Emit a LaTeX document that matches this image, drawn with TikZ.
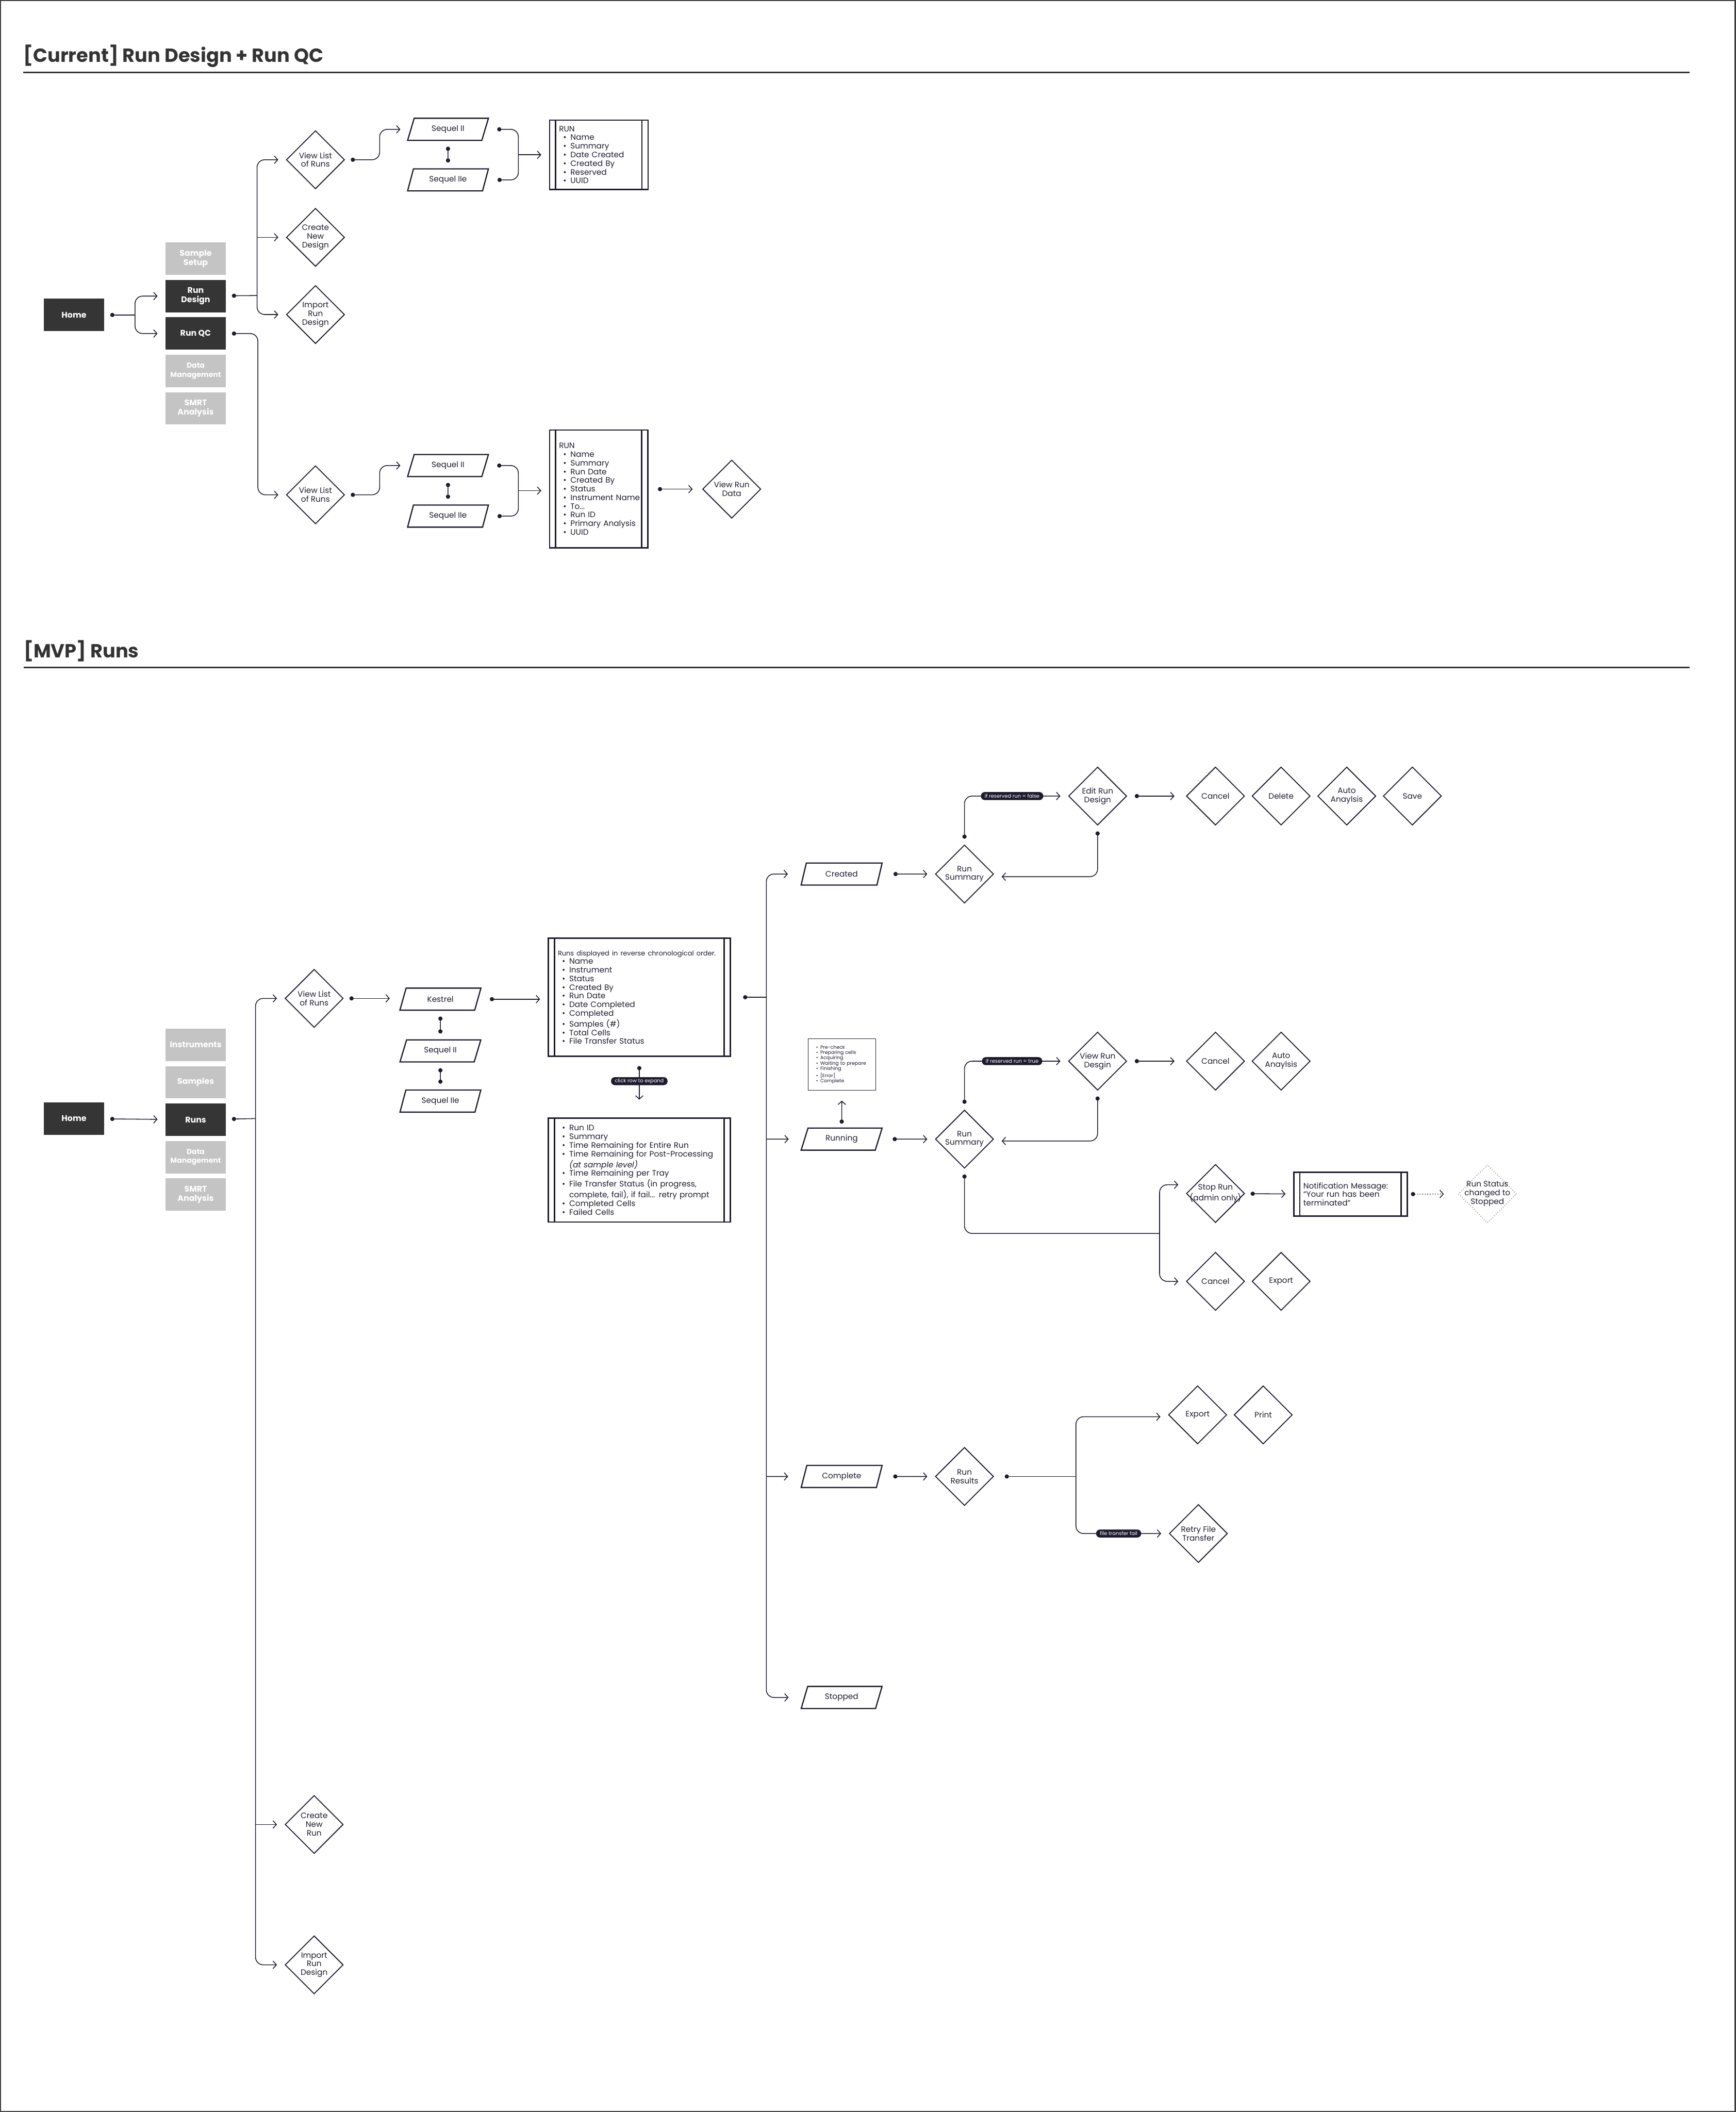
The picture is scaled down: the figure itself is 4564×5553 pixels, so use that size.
\documentclass[tikz,border=0pt]{standalone}
\usepackage{fontspec}
\setmainfont{Poppins}
\usetikzlibrary{positioning, arrows.meta, shapes.geometric}
\definecolor{inkNavy}{HTML}{1E1B2E}
\definecolor{navDark}{HTML}{353535}
\definecolor{navGray}{HTML}{C4C4C4}
\definecolor{titleGray}{HTML}{333333}
\definecolor{frameGray}{HTML}{3A3A3A}
\definecolor{ghostGray}{HTML}{8A8A8A}
\newcommand{\blt}[1]{\mbox{\hspace{0.11cm}\makebox[0.19cm][l]{\textbullet}#1}}
\newcommand{\wrp}[1]{\mbox{\hspace{0.30cm}#1}}
\newcommand{\sbl}[1]{\mbox{\makebox[0.11cm][l]{\textbullet}#1}}

\begin{document}
\begin{tikzpicture}[
    x=0.01cm, y=-0.01cm,
    node distance=0.12cm,
    every node/.style={text=inkNavy},
    navbox/.style={rectangle, fill=navGray, text=white, font=\fontsize{6.1pt}{7pt}\selectfont\bfseries, minimum width=1.59cm, minimum height=0.85cm, align=center, inner sep=0pt},
    navon/.style={navbox, fill=navDark},
    choice/.style={diamond, draw=inkNavy, line width=0.7pt, aspect=1, minimum width=1.53cm, minimum height=1.53cm, inner sep=0pt, align=center, font=\fontsize{5.9pt}{6.5pt}\selectfont},
    ghost/.style={choice, draw=ghostGray, dash pattern=on 0.5pt off 1.3pt},
    device/.style={trapezium, trapezium left angle=68, trapezium right angle=112, trapezium stretches=true, draw=inkNavy, line width=0.9pt, minimum width=2.13cm, minimum height=0.58cm, inner sep=0pt, font=\fontsize{5.9pt}{6.5pt}\selectfont},
    procbox/.style={rectangle, draw=inkNavy, line width=1pt, inner xsep=0.25cm, inner ysep=0pt, align=left, font=\fontsize{5.9pt}{6.46pt}\selectfont,
        path picture={\draw[inkNavy, line width=1pt]
            ([xshift=0.16cm]path picture bounding box.north west) -- ([xshift=0.16cm]path picture bounding box.south west)
            ([xshift=-0.16cm]path picture bounding box.north east) -- ([xshift=-0.16cm]path picture bounding box.south east);}},
    note/.style={rectangle, draw=inkNavy, line width=0.45pt, inner xsep=0.21cm, inner ysep=0pt, align=left, font=\fontsize{3.6pt}{4pt}\selectfont},
    pill/.style={rectangle, rounded corners=0.1cm, fill=inkNavy, text=white, font=\fontsize{3.8pt}{4pt}\selectfont, inner xsep=0.1cm, inner ysep=0pt, minimum height=0.21cm},
    heading/.style={anchor=base west, text=titleGray, font=\fontsize{14.2pt}{17pt}\selectfont\bfseries, inner sep=0pt},
    rule/.style={draw=titleGray, line width=1.15pt},
    wire/.style={draw=inkNavy, line width=0.6pt, rounded corners=0.2cm},
    flow/.style={wire, {Circle[length=1.1mm]}-{Straight Barb[length=0.9mm, width=2mm]}, shorten <=1.5mm, shorten >=2mm},
    flowDot/.style={wire, {Circle[length=1.1mm]}-, shorten <=1.5mm},
    flowTip/.style={wire, -{Straight Barb[length=0.9mm, width=2mm]}, shorten >=2mm},
    flowFork/.style={wire, {Straight Barb[length=0.9mm, width=2mm]}-{Straight Barb[length=0.9mm, width=2mm]}, shorten <=2mm, shorten >=2mm},
    flowPair/.style={wire, {Circle[length=1.1mm]}-{Circle[length=1.1mm]}, shorten <=1.5mm, shorten >=1.5mm},
    flowGhost/.style={flow, dash pattern=on 0.6pt off 1.3pt}
]
    \useasboundingbox (0,0) rectangle (4564,5553);
    \draw[frameGray, line width=0.85pt] (1.5,1.5) rectangle (4562.5,5551.5);

    % ---------------- [Current] section ----------------
    \node[heading] (Head1) at (61,163) {[Current] Run Design + Run QC};
    \draw[rule] (Head1.base west |- 0,190) -- (4443,190);

    % Navigation column
    \node[navon] (Home1) at (194.5,828) {Home};
    \node[navbox] (Sample1) at (514.5,680) {Sample\\Setup};
    \node[navon, below=of Sample1] (Design1) {Run\\Design};
    \node[navon, below=of Design1] (QC1) {Run QC};
    \node[navbox, below=of QC1, font=\fontsize{5.4pt}{6.6pt}\selectfont\bfseries] (Data1) {Data\\Management};
    \node[navbox, below=of Data1] (Smrt1) {SMRT\\Analysis};

    % Run Design branch
    \node[choice] (List1) at (829.5,420) {View List\\of Runs};
    \node[choice] (Create1) at (829.5,624) {Create\\New\\Design};
    \node[choice] (Import1) at (829.5,827) {Import\\Run\\Design};
    \node[device] (SeqA1) at (1178,340) {Sequel II};
    \node[device] (SeqB1) at (1178,473) {Sequel IIe};
    \node[procbox, minimum width=2.59cm, minimum height=1.82cm, text width=2.09cm] (Run1) at (1574.5,407)
        {RUN\\\blt{Name}\\\blt{Summary}\\\blt{Date Created}\\\blt{Created By}\\\blt{Reserved}\\\blt{UUID}};

    % Run QC branch
    \node[choice] (List2) at (829.5,1301) {View List\\of Runs};
    \node[device] (SeqA2) at (1178,1224) {Sequel II};
    \node[device] (SeqB2) at (1178,1357) {Sequel IIe};
    \node[procbox, minimum width=2.58cm, minimum height=3.09cm, text width=2.08cm] (Run2) at (1574,1285.5)
        {RUN\\\blt{Name}\\\blt{Summary}\\\blt{Run Date}\\\blt{Created By}\\\blt{Status}\\\blt{Instrument Name}\\\blt{To...}\\\blt{Run ID}\\\blt{Primary Analysis}\\\blt{UUID}};
    \node[choice] (ViewData1) at (1924,1286) {View Run\\Data};

    % Connectors (current)
    \coordinate (Split1) at (355,828);
    \coordinate (Trunk1) at (676,777);
    \coordinate (Bend1) at (678,1301);
    \coordinate (Merge1) at (1363,407);
    \coordinate (Merge2) at (1363,1290);
    \draw[flowDot] (Home1) -- (Split1);
    \draw[flowFork] (Design1.west) -| (Split1) |- (QC1.west);
    \draw[flowDot] (Design1) -- (Trunk1);
    \draw[flowFork] (List1.west) -| (Trunk1) |- (Import1.west);
    \draw[flowTip] (Trunk1 |- Create1) -- (Create1);
    \draw[flow] (QC1.east) -| (Bend1) -- (List2);

    \draw[flow, shorten >=2.6mm] (List1.east) -- ++(91,0) |- (SeqA1);
    \draw[flowPair] (SeqA1) -- (SeqB1);
    \draw[flowDot, shorten <=3mm] (SeqA1.east) -| (Merge1);
    \draw[flowDot, shorten <=3mm] (SeqB1.east) -| (Merge1);
    \draw[flowTip] (Merge1) -- (Merge1 -| Run1.west);

    \draw[flow, shorten >=2.6mm] (List2.east) -- ++(91,0) |- (SeqA2);
    \draw[flowPair] (SeqA2) -- (SeqB2);
    \draw[flowDot, shorten <=3mm] (SeqA2.east) -| (Merge2);
    \draw[flowDot, shorten <=3mm] (SeqB2.east) -| (Merge2);
    \draw[flowTip] (Merge2) -- (Merge2 -| Run2.west);
    \draw[flow, shorten <=2.5mm, shorten >=2.5mm] (Run2.east |- ViewData1) -- (ViewData1);

    % ---------------- [MVP] section ----------------
    \node[heading] (Head2) at (62,1729) {[MVP] Runs};
    \draw[rule] (Head2.base west |- 0,1755) -- (4443,1755);

    % Navigation column
    \node[navon] (Home2) at (194.5,2941) {Home};
    \node[navbox] (Inst2) at (514.5,2747) {Instruments};
    \node[navbox, below=of Inst2] (Samp2) {Samples};
    \node[navon, below=of Samp2] (Runs2) {Runs};
    \node[navbox, below=of Runs2, font=\fontsize{5.4pt}{6.6pt}\selectfont\bfseries] (Data2) {Data\\Management};
    \node[navbox, below=of Data2] (Smrt2) {SMRT\\Analysis};

    % Runs branch
    \node[choice] (List3) at (826,2625) {View List\\of Runs};
    \node[choice] (CreateRun) at (826,4797) {Create\\New\\Run};
    \node[choice] (Import2) at (826,5166) {Import\\Run\\Design};
    \node[device] (Kestrel) at (1158,2627) {Kestrel};
    \node[device] (SeqA3) at (1158,2763) {Sequel II};
    \node[device] (SeqB3) at (1158,2895) {Sequel IIe};
    \node[procbox, minimum width=4.78cm, minimum height=3.10cm, text width=4.28cm] (Table) at (1681,2622)
        {\mbox{\fontsize{5pt}{6.46pt}\selectfont Runs displayed in reverse chronological order.}\\
         \blt{Name}\\\blt{Instrument}\\\blt{Status}\\\blt{Created By}\\\blt{Run Date}\\\blt{Date Completed}\\
         \blt{Completed}\\\blt{Samples (\#)}\\\blt{Total Cells}\\\blt{File Transfer Status}};
    \node[procbox, minimum width=4.78cm, minimum height=2.73cm, text width=4.28cm] (Expand) at (1681,3076.5)
        {\blt{Run ID}\\\blt{Summary}\\\blt{Time Remaining for Entire Run}\\\blt{Time Remaining for Post-Processing}\\
         \wrp{\textit{(at sample level)}}\\\blt{Time Remaining per Tray}\\\blt{File Transfer Status (in progress,}\\
         \wrp{complete, fail), if fail... retry prompt}\\\blt{Completed Cells}\\\blt{Failed Cells}};

    % Created status
    \node[device] (Created) at (2213,2298) {Created};
    \node[choice] (SumA) at (2536,2298) {Run\\Summary};
    \node[choice] (Edit) at (2886,2093) {Edit Run\\Design};
    \node[choice] (CancelA) at (3196,2093) {Cancel};
    \node[choice, right=0.17cm of CancelA] (Delete) {Delete};
    \node[choice, right=0.17cm of Delete] (AutoA) {Auto\\Anaylsis};
    \node[choice, right=0.17cm of AutoA] (Save) {Save};

    % Running status
    \node[note, minimum width=1.78cm, minimum height=1.36cm, text width=1.36cm] (Stages) at (2214,2799)
        {\sbl{Pre-check}\\\sbl{Preparing cells}\\\sbl{Acquiring}\\\sbl{Waiting to prepare}\\\sbl{Finishing}\\\sbl{[Error]}\\\sbl{Complete}};
    \node[device] (Running) at (2213,2995) {Running};
    \node[choice] (SumB) at (2536,2995) {Run\\Summary};
    \node[choice] (ViewRun) at (2886,2790) {View Run\\Desgin};
    \node[choice] (CancelB) at (3196,2790) {Cancel};
    \node[choice, right=0.17cm of CancelB] (AutoB) {Auto\\Anaylsis};
    \node[choice, label={[align=center, font=\fontsize{5.9pt}{6.5pt}\selectfont]center:{Stop Run\\(admin only)}}] (Stop) at (3196,3138) {};
    \node[procbox, minimum width=2.98cm, minimum height=1.15cm, text width=2.48cm] (Notice) at (3551,3140)
        {Notification Message:\\“Your run has been\\terminated”};
    \node[ghost, label={[align=center, font=\fontsize{5.9pt}{6.5pt}\selectfont]center:{Run Status\\changed to\\Stopped}}] (Halted) at (3911,3139) {};
    \node[choice] (CancelC) at (3196,3369) {Cancel};
    \node[choice, right=0.17cm of CancelC] (ExportA) {Export};

    % Complete status
    \node[device] (Complete) at (2213,3882) {Complete};
    \node[choice] (Results) at (2536,3882) {Run\\Results};
    \node[choice] (ExportB) at (3149,3720) {Export};
    \node[choice, right=0.17cm of ExportB] (Print) {Print};
    \node[choice] (Retry) at (3151,4032) {Retry File\\Transfer};

    % Stopped status
    \node[device] (Stopped) at (2213,4463) {Stopped};

    % Connectors (MVP)
    \coordinate (Trunk3) at (672,2941);
    \coordinate (Trunk4) at (2015,2622);
    \coordinate (Trunk5) at (3049,3243);
    \coordinate (Trunk6) at (2829,3882);
    \draw[flow] (Home2) -- (Runs2);
    \draw[flowDot] (Runs2) -- (Trunk3);
    \draw[flowFork] (List3.west) -| (Trunk3) |- (Import2.west);
    \draw[flowTip] (Trunk3 |- CreateRun) -- (CreateRun);

    \draw[flow, shorten >=3.3mm] (List3) -- (List3 -| Kestrel.west);
    \draw[flowPair] (Kestrel) -- (SeqA3);
    \draw[flowPair] (SeqA3) -- (SeqB3);
    \draw[flow, shorten <=3mm] (Kestrel.east) -- (Kestrel.east -| Table.west);
    \draw[flow, shorten <=2.4mm, shorten >=4.7mm] (Table) -- node[pill, pos=0.4] {click row to expand} (Expand);

    \draw[flowDot, shorten <=3.2mm] (Table) -- (Trunk4);
    \draw[flowFork, shorten <=4mm, shorten >=4mm] (Created.west) -| (Trunk4) |- (Stopped.west);
    \draw[flowTip, shorten >=4mm] (Trunk4 |- Running) -- (Running);
    \draw[flowTip, shorten >=4mm] (Trunk4 |- Complete) -- (Complete);

    \draw[flow, shorten <=3.5mm] (Created) -- (SumA);
    \draw[flow] (SumA.north) |- node[pill, pos=0.73] {if reserved run = false} (Edit.west);
    \draw[flow] (Edit.south) |- ([yshift=-0.07cm]SumA.east);
    \draw[flow, shorten <=2mm, shorten >=3mm] (Edit) -- (CancelA);

    \draw[flow, shorten <=1mm, shorten >=2.6mm] (Running) -- (Stages);
    \draw[flow, shorten <=3.5mm] (Running) -- (SumB);
    \draw[flow] (SumB.north) |- node[pill, pos=0.73] {if reserved run = true} (ViewRun.west);
    \draw[flow] (ViewRun.south) |- ([yshift=-0.05cm]SumB.east);
    \draw[flow, shorten <=2mm, shorten >=3mm] (ViewRun) -- (CancelB);
    \draw[flowDot] (SumB.south) |- (Trunk5);
    \draw[flowFork] ([yshift=0.23cm]Stop.west) -| (Trunk5) |- (CancelC.west);
    \draw[flow] (Stop) -- (Notice);
    \draw[flowGhost, shorten <=0.8mm, shorten >=3.7mm] (Notice) -- (Halted);

    \draw[flow, shorten <=3.5mm] (Complete) -- (Results);
    \draw[flowDot, shorten <=2.8mm] (Results) -- (Trunk6);
    \draw[flowFork] ([yshift=-0.05cm]ExportB.west) -| (Trunk6) |- node[pill, pos=0.73] {file transfer fail} (Retry.west);
\end{tikzpicture}
\end{document}
